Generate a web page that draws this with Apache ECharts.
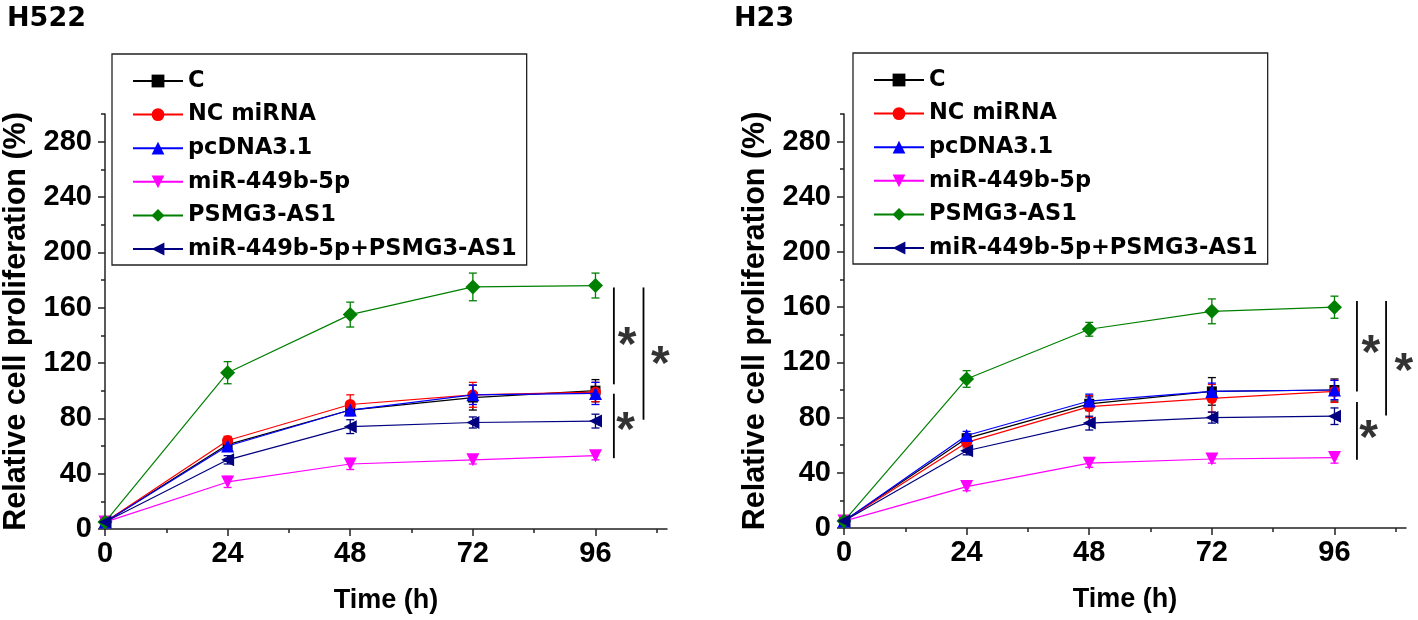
<!DOCTYPE html>
<html><head><meta charset="utf-8">
<script src="https://cdn.jsdelivr.net/npm/echarts@6/dist/echarts.min.js"></script>
<style>html,body{margin:0;padding:0;background:#fff}#c{width:1418px;height:620px}</style>
</head><body><div id="c"></div>
<script>
// ---------- data ----------
const times = [0, 24, 48, 72, 96];
const seriesNames = ['C', 'NC miRNA', 'pcDNA3.1', 'miR-449b-5p', 'PSMG3-AS1', 'miR-449b-5p+PSMG3-AS1'];
const panelTitles = ['H522', 'H23'];
const xLabelValues = [0, 24, 48, 72, 96];
const xMinorTicks = [12, 36, 60, 84, 108];
const yLabelValues = [0, 40, 80, 120, 160, 200, 240, 280];
const yMinorTicks = [20, 60, 100, 140, 180, 220, 260, 300];

// H522 means and error bars
const h522_C = [5, 61, 86, 95, 100];
const h522_C_err = [1, 3, 4, 9, 8];
const h522_NC = [5, 64, 90, 97, 99];
const h522_NC_err = [1, 3, 7, 9, 7];
const h522_pc = [5, 60, 86, 97, 98];
const h522_pc_err = [1, 3, 4, 7, 8];
const h522_miR = [5, 34, 47, 50, 53];
const h522_miR_err = [1, 4, 4, 3, 3];
const h522_PS = [5, 113, 155, 175, 176];
const h522_PS_err = [1, 8, 9, 10, 9];
const h522_combo = [5, 50, 74, 77, 78];
const h522_combo_err = [1, 3, 5, 4, 5];
// H23 means and error bars
const h23_C = [5, 65, 90, 99, 100];
const h23_C_err = [1, 3, 5, 10, 8];
const h23_NC = [5, 62, 88, 94, 99];
const h23_NC_err = [1, 4, 8, 10, 8];
const h23_pc = [5, 67, 92, 99, 100];
const h23_pc_err = [1, 3, 5, 6, 7];
const h23_miR = [5, 30, 47, 50, 51];
const h23_miR_err = [1, 3, 3, 3, 4];
const h23_PS = [5, 108, 144, 157, 160];
const h23_PS_err = [1, 6, 5, 9, 8];
const h23_combo = [5, 56, 76, 80, 81];
const h23_combo_err = [1, 3, 5, 4, 6];

// significance brackets: [x, yFrom, yTo] and star positions [x, y]
const h522Brackets = [[99.6, 174.6, 104.6], [99.6, 97.8, 51.2], [105.4, 174.6, 79]];
const h522Stars = [[102.2, 140], [108.7, 125.6], [101.9, 78.5]];
const h23Brackets = [[100.4, 164.5, 99], [100.4, 91.3, 49.5], [106.1, 164.5, 81.6]];
const h23Stars = [[103.1, 133.6], [109.6, 120.3], [102.7, 72]];

// ---------- styles ----------
const colors = ['#000000', '#ff0000', '#0000ff', '#ff00ff', '#008000', '#000080'];
const symbols = ['rect', 'circle', 'triangle', 'triangle', 'diamond', 'triangle'];
const rotates = [0, 0, 0, 180, 0, 90];
const sizes = [10, 11, 13, 13, 15, 13];
const AX = 'Liberation Sans';
const axisColor = '#222';

const panels = [
  { means: [h522_C, h522_NC, h522_pc, h522_miR, h522_PS, h522_combo],
    errs: [h522_C_err, h522_NC_err, h522_pc_err, h522_miR_err, h522_PS_err, h522_combo_err],
    brackets: h522Brackets, stars: h522Stars,
    grid: { left: 102, top: 114, width: 565, height: 415 },
    legendPos: { left: 112, top: 54 }, titlePos: { left: 2, top: 0 } },
  { means: [h23_C, h23_NC, h23_pc, h23_miR, h23_PS, h23_combo],
    errs: [h23_C_err, h23_NC_err, h23_pc_err, h23_miR_err, h23_PS_err, h23_combo_err],
    brackets: h23Brackets, stars: h23Stars,
    grid: { left: 844, top: 114, width: 562, height: 414 },
    legendPos: { left: 853, top: 53 }, titlePos: { left: 729, top: 0 } }
];

const grids = [], xAxes = [], yAxes = [], series = [], legends = [], titles = [];

panels.forEach((p, pi) => {
  grids.push(p.grid);
  const xi = xAxes.length, yi = yAxes.length;
  xAxes.push({
    gridIndex: pi, type: 'value', min: 0, max: 110, position: 'bottom',
    axisLine: { lineStyle: { color: axisColor, width: 1.5 } },
    axisTick: { customValues: xLabelValues, length: 7, lineStyle: { color: axisColor, width: 1.5 } },
    axisLabel: { customValues: xLabelValues, margin: 10, fontFamily: AX, fontWeight: 'bold', fontSize: 29, color: '#000' },
    splitLine: { show: false },
    name: 'Time (h)', nameLocation: 'middle', nameGap: 58,
    nameTextStyle: { fontFamily: AX, fontWeight: 'bold', fontSize: 27, color: '#000' }
  });
  xAxes.push({
    gridIndex: pi, type: 'value', min: 0, max: 110, position: 'bottom',
    axisLine: { show: false },
    axisTick: { customValues: xMinorTicks, length: 4, lineStyle: { color: axisColor, width: 1.5 } },
    axisLabel: { show: false }, splitLine: { show: false }
  });
  yAxes.push({
    gridIndex: pi, type: 'value', min: 0, max: 300, position: 'left',
    axisLine: { show: true, lineStyle: { color: axisColor, width: 1.5 } },
    axisTick: { show: true, customValues: yLabelValues, length: 7, lineStyle: { color: axisColor, width: 1.5 } },
    axisLabel: { customValues: yLabelValues, margin: 13, fontFamily: AX, fontWeight: 'bold', fontSize: 29, color: '#000' },
    splitLine: { show: false },
    name: 'Relative cell proliferation (%)', nameLocation: 'middle', nameGap: 73,
    nameTextStyle: { fontFamily: AX, fontWeight: 'bold', fontSize: 30.5, color: '#000' }
  });
  yAxes.push({
    gridIndex: pi, type: 'value', min: 0, max: 300, position: 'left',
    axisLine: { show: false },
    axisTick: { show: true, customValues: yMinorTicks, length: 4, lineStyle: { color: axisColor, width: 1.5 } },
    axisLabel: { show: false }, splitLine: { show: false }
  });

  // error bars
  p.means.forEach((m, si) => {
    const col = colors[si];
    series.push({
      type: 'custom', xAxisIndex: xi, yAxisIndex: yi, z: 1, silent: true,
      data: times.map((t, k) => [t, m[k], p.errs[si][k]]),
      encode: { x: 0, y: 1 },
      renderItem: (params, api) => {
        const x = api.value(0), y = api.value(1), e = api.value(2);
        const hi = api.coord([x, y + e]), lo = api.coord([x, y - e]);
        const w = 4, st = { stroke: col, lineWidth: 1.3 };
        return { type: 'group', children: [
          { type: 'line', shape: { x1: hi[0], y1: hi[1], x2: lo[0], y2: lo[1] }, style: st },
          { type: 'line', shape: { x1: hi[0] - w, y1: hi[1], x2: hi[0] + w, y2: hi[1] }, style: st },
          { type: 'line', shape: { x1: lo[0] - w, y1: lo[1], x2: lo[0] + w, y2: lo[1] }, style: st }
        ] };
      }
    });
  });
  // lines with markers
  p.means.forEach((m, si) => {
    series.push({
      type: 'line', name: seriesNames[si], xAxisIndex: xi, yAxisIndex: yi, z: 2 + si,
      data: times.map((t, k) => [t, m[k]]),
      symbol: symbols[si], symbolSize: sizes[si], symbolRotate: rotates[si], showSymbol: true,
      itemStyle: { color: colors[si] }, lineStyle: { color: colors[si], width: 1.2 },
      emphasis: { disabled: true }
    });
  });
  // brackets
  series.push({
    type: 'custom', xAxisIndex: xi, yAxisIndex: yi, z: 10, silent: true,
    data: p.brackets, encode: { x: 0, y: [1, 2] },
    renderItem: (params, api) => {
      const a = api.coord([api.value(0), api.value(1)]), b = api.coord([api.value(0), api.value(2)]);
      return { type: 'line', shape: { x1: a[0], y1: a[1], x2: b[0], y2: b[1] }, style: { stroke: '#000', lineWidth: 1.8 } };
    }
  });
  // stars
  series.push({
    type: 'scatter', xAxisIndex: xi, yAxisIndex: yi, z: 10, silent: true, clip: false,
    data: p.stars, symbol: 'circle', symbolSize: 1, itemStyle: { color: 'rgba(0,0,0,0)' },
    label: { show: true, position: 'inside', formatter: '*', fontFamily: AX, fontWeight: 'bold', fontSize: 48, color: '#000', offset: [0, 11] }
  });

  legends.push({
    data: seriesNames, orient: 'vertical', left: p.legendPos.left, top: p.legendPos.top,
    itemWidth: 50, itemHeight: 16, itemGap: 9.6,
    padding: [15, 10, 4, 20], borderColor: '#222', borderWidth: 1.3, backgroundColor: '#fff',
    selectedMode: false,
    textStyle: { fontFamily: 'DejaVu Sans', fontWeight: 'bold', fontSize: 22.5, color: '#000', lineHeight: 24 }
  });
  titles.push({
    text: panelTitles[pi], left: p.titlePos.left, top: p.titlePos.top,
    textStyle: { fontFamily: 'DejaVu Sans', fontWeight: 'bold', fontSize: 27, color: '#000' }
  });
});

const chart = echarts.init(document.getElementById('c'));
chart.setOption({
  animation: false,
  backgroundColor: '#fff',
  title: titles,
  legend: legends,
  grid: grids,
  xAxis: xAxes,
  yAxis: yAxes,
  series: series
});
</script></body></html>
